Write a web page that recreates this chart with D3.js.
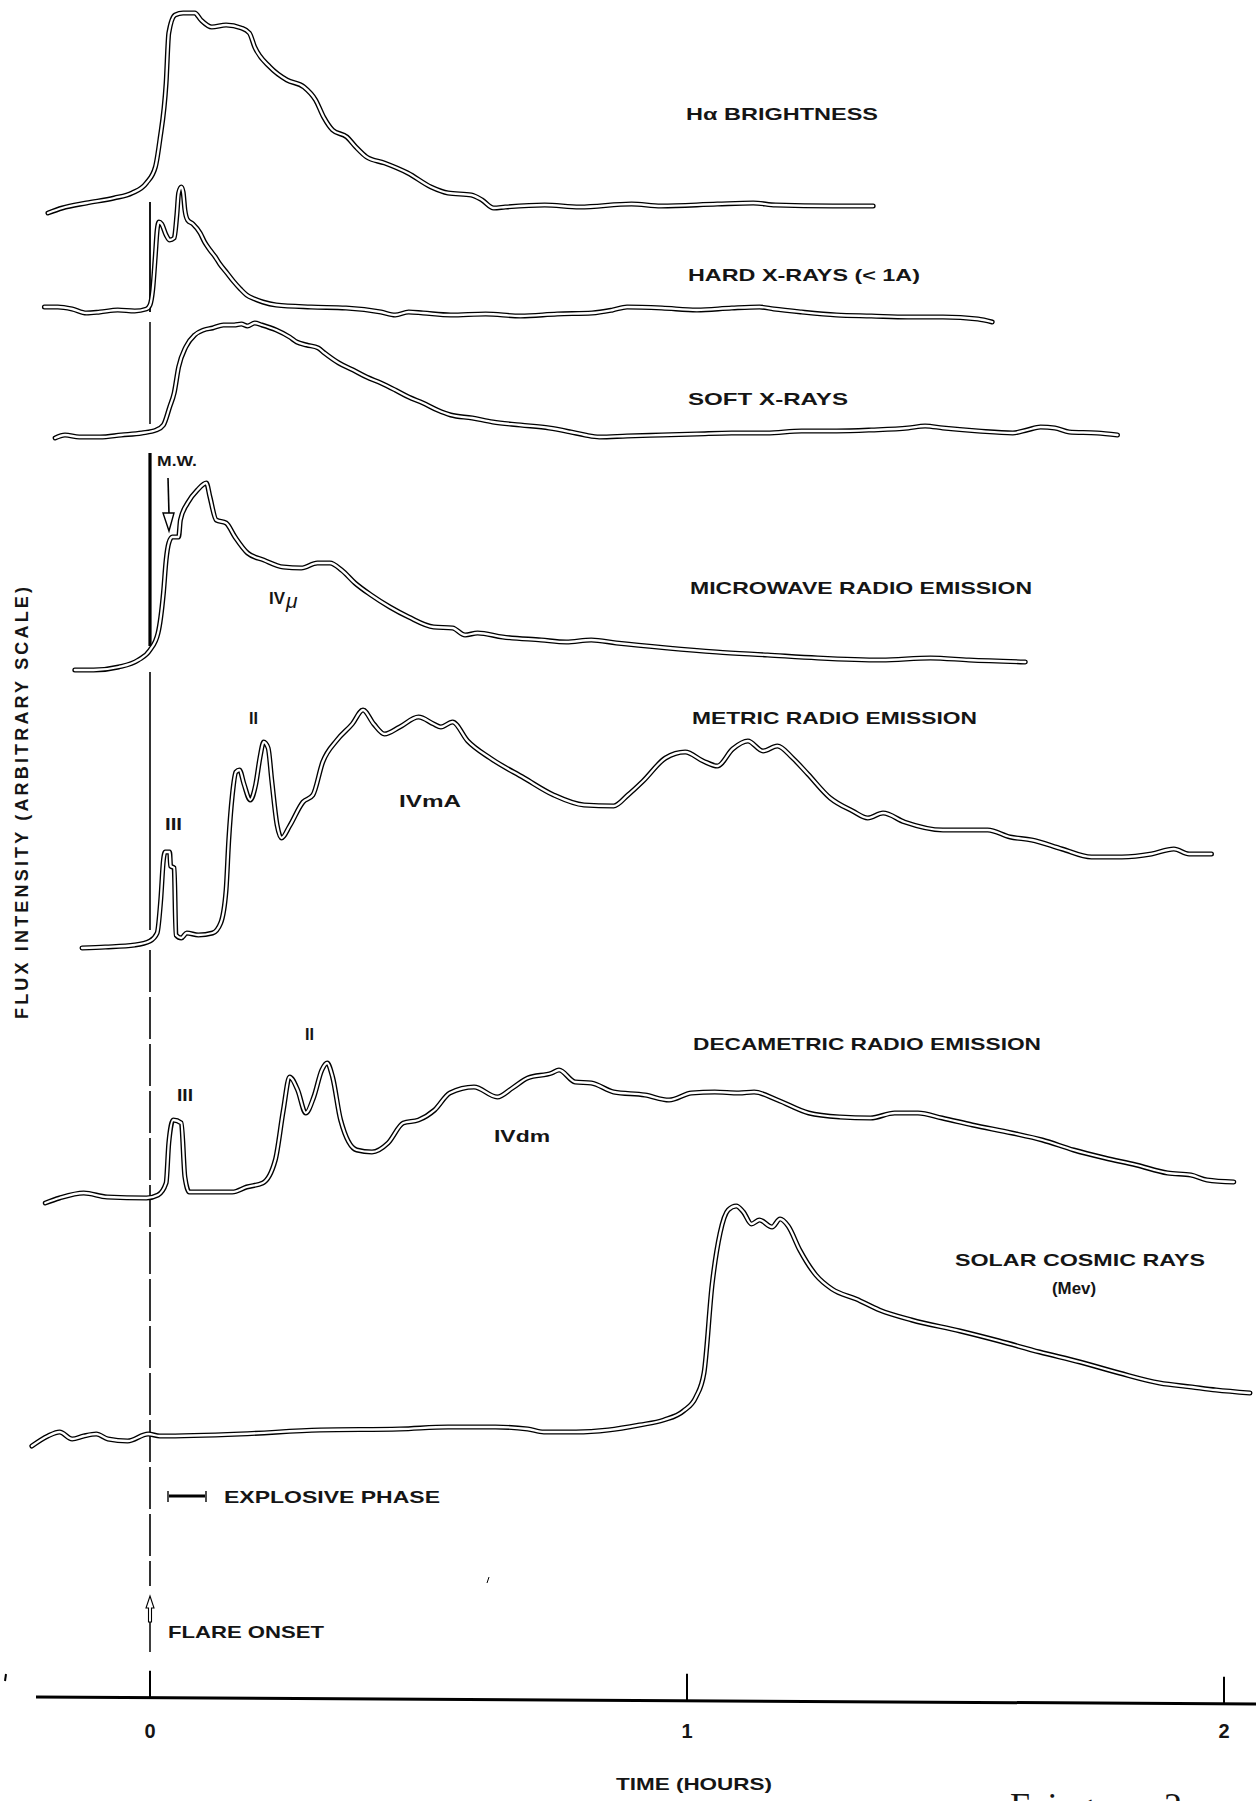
<!DOCTYPE html>
<html><head><meta charset="utf-8">
<script src="https://cdn.jsdelivr.net/npm/d3@7"></script>
<style>body{margin:0;background:#fff}svg{display:block}</style>
</head><body>
<svg id="chart" width="1256" height="1801"></svg>
<script>
// ---- data: [time in minutes after flare onset, flux (arbitrary units)] ----
const halpha = [[-11.4,0],[-9.8,5],[-7.1,10],[-4.0,15],[-2.0,20],[-0.4,30],[0.6,46],[1.1,73],[1.8,130],[2.1,180],[2.8,198],[3.7,200],[5.0,200],[5.7,193],[6.9,186],[8.5,188],[10.2,185],[11.1,180],[11.7,166],[13.4,146],[15.3,133],[17.2,126],[18.5,113],[19.4,96],[20.4,83],[22.0,76],[23.0,66],[24.2,56],[26.2,50],[28.8,40],[31.4,26],[33.3,20],[35.9,18],[37.1,13],[38.4,5],[39.7,6],[44.1,8],[48.0,6],[53.8,9],[57.1,7],[63.4,9],[67.4,10],[69.9,8],[76.3,7],[80.8,7]];
const hardX = [[-11.8,3],[-10.3,3],[-8.7,1],[-7.1,-3],[-5.6,-2],[-3.6,0],[-1.7,-1],[-0.4,1],[0.0,5],[0.3,20],[0.6,55],[0.8,80],[1.0,88],[1.3,86],[1.8,75],[2.2,70],[2.7,72],[3.0,95],[3.2,117],[3.5,123],[3.7,118],[3.9,100],[4.2,90],[4.8,86],[5.6,77],[6.1,68],[6.7,60],[7.3,53],[7.8,46],[8.6,37],[9.3,29],[10.1,21],[10.8,15],[11.7,11],[12.6,8],[14.1,5],[18.0,3],[21.9,2],[25.8,-2],[27.4,-5],[28.9,-2],[30.5,-3],[33.6,-5],[37.5,-4],[41.4,-6],[45.5,-4],[49.4,-3],[51.7,0],[53.3,3],[57.2,2],[61.1,0],[65.0,2],[68.1,3],[69.7,1],[72.8,-2],[76.7,-5],[80.6,-6],[84.7,-7],[88.6,-7],[92.5,-9],[94.1,-12]];
const softX = [[-10.6,-1],[-9.5,2],[-7.9,0],[-5.6,0],[-3.2,2],[-0.9,4],[0.7,7],[1.5,12],[2.2,30],[2.7,44],[3.2,70],[4.0,90],[5.0,102],[6.0,107],[7.0,109],[8.2,112],[9.4,112],[10.2,113],[10.9,111],[11.7,114],[12.5,112],[14.1,107],[15.6,100],[16.4,95],[17.5,92],[18.8,89],[19.5,84],[21.1,74],[22.7,67],[24.2,60],[25.8,54],[27.4,47],[28.9,40],[30.5,34],[32.1,27],[33.6,22],[36.0,19],[38.3,15],[41.4,12],[44.6,9],[47.0,5],[48.6,2],[50.2,0],[53.3,1],[57.2,2],[61.1,3],[65.0,4],[68.9,4],[72.8,6],[76.7,6],[80.6,7],[84.7,9],[86.6,11],[88.6,9],[92.5,6],[96.4,4],[98.0,7],[99.5,10],[101.1,9],[102.7,5],[105.8,4],[108.1,2]];
const microwave = [[-8.4,0],[-6.3,0],[-3.5,3],[-1.3,10],[0.0,20],[0.9,37],[1.5,77],[1.8,110],[2.1,127],[2.5,133],[3.2,133],[3.4,150],[4.2,167],[5.3,180],[6.3,187],[6.7,173],[7.4,150],[8.5,147],[9.5,133],[10.9,117],[12.7,110],[14.9,103],[16.9,102],[18.7,107],[20.1,107],[21.4,100],[22.9,87],[24.7,75],[26.8,63],[28.9,53],[31.7,43],[33.8,42],[35.2,35],[36.6,37],[39.4,33],[43.7,30],[46.5,28],[49.3,30],[52.1,27],[57.8,22],[63.3,18],[69.0,15],[74.6,12],[81.7,10],[87.2,12],[91.5,10],[97.8,8]];
const metric = [[-7.6,-1],[-5.0,0],[-1.7,2],[0.0,6],[0.8,14],[1.2,47],[1.5,87],[1.7,95],[2.2,95],[2.3,81],[2.7,79],[2.9,12],[3.5,9],[4.1,14],[5.4,12],[7.0,14],[7.9,24],[8.5,57],[8.8,107],[9.2,152],[9.6,175],[10.0,177],[10.5,163],[11.2,147],[11.8,162],[12.3,190],[12.7,205],[13.2,199],[13.6,167],[14.2,122],[14.7,109],[15.6,121],[17.1,145],[18.2,152],[19.3,185],[20.9,207],[22.6,223],[23.8,237],[25.0,223],[26.2,213],[27.9,220],[30.0,230],[31.7,223],[32.5,220],[33.8,225],[35.5,206],[38.0,189],[41.8,169],[45.1,152],[48.5,142],[51.8,141],[53.4,152],[55.1,166],[57.6,189],[59.8,195],[61.8,186],[63.4,181],[65.1,198],[66.8,206],[68.5,196],[70.1,201],[71.8,189],[73.5,173],[76.0,149],[78.5,136],[80.2,129],[81.9,134],[84.3,125],[88.6,117],[93.6,117],[96.1,110],[98.5,107],[101.9,98],[105.2,90],[108.6,90],[111.9,93],[114.4,98],[116.1,93],[118.6,93]];
const decametric = [[-11.7,-3],[-10.1,2],[-7.4,7],[-4.8,3],[-0.4,2],[0.9,5],[1.8,17],[2.1,57],[2.6,80],[3.5,77],[3.9,23],[4.4,8],[6.5,8],[9.2,8],[10.8,13],[12.6,17],[14.0,40],[14.9,90],[15.6,123],[16.5,110],[17.4,87],[18.3,103],[19.2,130],[19.8,137],[20.4,123],[21.3,80],[23.1,50],[24.8,48],[26.6,57],[28.3,77],[30.0,80],[31.8,90],[33.5,107],[36.2,113],[38.8,103],[40.5,112],[42.2,122],[44.9,127],[45.7,130],[47.5,118],[49.3,117],[51.8,108],[55.3,105],[58.0,100],[60.5,107],[63.1,108],[65.8,107],[67.5,108],[70.1,100],[73.6,87],[77.1,83],[80.5,82],[83.2,87],[85.8,87],[88.5,82],[91.9,75],[96.3,67],[99.7,60],[103.2,50],[106.7,42],[110.2,35],[113.7,27],[116.3,25],[118.1,20],[121.1,18]];
const cosmic = [[-13.2,-6],[-11.4,4],[-10.1,8],[-8.7,1],[-7.4,4],[-6.0,6],[-4.7,1],[-2.5,-1],[-0.2,6],[1.1,4],[10.1,6],[19.0,10],[27.9,11],[33.3,13],[38.6,13],[42.2,11],[44.0,8],[47.6,8],[51.2,10],[54.7,15],[57.4,20],[59.6,29],[61.0,43],[61.9,67],[62.8,155],[63.7,207],[64.6,230],[65.5,234],[66.3,228],[67.2,216],[68.1,220],[69.5,213],[70.4,221],[71.3,214],[72.6,190],[74.4,165],[76.2,151],[78.9,141],[81.5,130],[85.1,120],[90.5,109],[94.9,99],[99.4,88],[103.9,78],[108.3,67],[112.8,57],[116.4,53],[119.1,50],[122.9,47]];

const tickValues = [0, 60, 120];          // minutes
const tickLabels = ["0", "1", "2"];       // hours
const seriesLabels = ["Hα BRIGHTNESS", "HARD X-RAYS (< 1A)", "SOFT X-RAYS", "MICROWAVE RADIO EMISSION", "METRIC RADIO EMISSION", "DECAMETRIC RADIO EMISSION", "SOLAR COSMIC RAYS"];

// ---- drawing ----
const svg = d3.select("#chart");
svg.append("rect").attr("width",1256).attr("height",1801).attr("fill","#fff");
const x = d3.scaleLinear().domain([0,120]).range([150,1224]);
const FONT = "'Liberation Sans', Arial, sans-serif";

const panels = [
  {data: halpha,     base: 213,  label: 0, lx: 686, ly: 120, lw: 192},
  {data: hardX,      base: 310,  label: 1, lx: 688, ly: 281, lw: 232},
  {data: softX,      base: 437,  label: 2, lx: 688, ly: 405, lw: 160},
  {data: microwave,  base: 670,  label: 3, lx: 690, ly: 594, lw: 342},
  {data: metric,     base: 947,  label: 4, lx: 692, ly: 724, lw: 285},
  {data: decametric, base: 1200, label: 5, lx: 693, ly: 1050, lw: 348},
  {data: cosmic,     base: 1440, label: 6, lx: 955, ly: 1266, lw: 250}
];

// flare onset vertical line (segments)
const x0 = x(0);
const segs = [[202,312,1.8],[322,424,1.5],[453,646,3.2],[672,930,1.6],[1622,1652,1.5]];
segs.forEach(s => svg.append("line").attr("x1",x0).attr("x2",x0).attr("y1",s[0]).attr("y2",s[1])
  .attr("stroke","#000").attr("stroke-width",s[2]));
svg.append("line").attr("x1",x0).attr("x2",x0).attr("y1",950).attr("y2",1586)
  .attr("stroke","#000").attr("stroke-width",1.6).attr("stroke-dasharray","42,5");

// curves as double lines
panels.forEach(p => {
  const y = d3.scaleLinear().domain([0,100]).range([p.base, p.base-100]);
  const line = d3.line().x(d=>x(d[0])).y(d=>y(d[1])).curve(d3.curveMonotoneX);
  svg.append("path").attr("d",line(p.data)).attr("fill","none").attr("stroke","#000")
    .attr("stroke-width",5).attr("stroke-linejoin","round").attr("stroke-linecap","round");
  svg.append("path").attr("d",line(p.data)).attr("fill","none").attr("stroke","#fff")
    .attr("stroke-width",2.3).attr("stroke-linejoin","round").attr("stroke-linecap","round");
  svg.append("text").attr("x",p.lx).attr("y",p.ly).text(seriesLabels[p.label])
    .attr("font-family",FONT).attr("font-size",17).attr("font-weight","bold").attr("fill","#151515")
    .attr("textLength",p.lw).attr("lengthAdjust","spacingAndGlyphs");
});

function txt(s, xx, yy, size, w){
  const t = svg.append("text").attr("x",xx).attr("y",yy).text(s).attr("font-family",FONT)
    .attr("font-size",size).attr("font-weight","bold").attr("fill","#151515");
  if (w) t.attr("textLength",w).attr("lengthAdjust","spacingAndGlyphs");
  return t;
}
txt("(Mev)", 1052, 1294, 16, 44);
// annotations
txt("M.W.", 157, 466, 15, 40);
txt("IV", 269, 604, 17, 16);
svg.append("text").attr("x",286).attr("y",608).text("μ").attr("font-family",FONT)
  .attr("font-size",21).attr("font-style","italic").attr("fill","#151515");
txt("II", 249, 724, 17, 9);
txt("III", 165, 830, 17, 17);
txt("IVmA", 399, 807, 17, 62);
txt("II", 305, 1040, 17, 9);
txt("III", 177, 1101, 17, 16);
txt("IVdm", 494, 1142, 17, 56);

// M.W. arrow
svg.append("line").attr("x1",168).attr("x2",169).attr("y1",478).attr("y2",514).attr("stroke","#000").attr("stroke-width",1.6);
svg.append("path").attr("d","M163,513 L174,513 L169,531 Z").attr("fill","#fff").attr("stroke","#000").attr("stroke-width",1.4);

// explosive phase marker
svg.append("line").attr("x1",169).attr("x2",205).attr("y1",1496).attr("y2",1496).attr("stroke","#000").attr("stroke-width",3);
svg.append("line").attr("x1",168).attr("x2",168).attr("y1",1491).attr("y2",1502).attr("stroke","#000").attr("stroke-width",1.4);
svg.append("line").attr("x1",206).attr("x2",206).attr("y1",1491).attr("y2",1502).attr("stroke","#000").attr("stroke-width",1.4);
txt("EXPLOSIVE PHASE", 224, 1503, 17, 216);

// flare onset arrow
svg.append("path").attr("d",`M${x0},1596 L${x0+4},1608 L${x0+1.5},1608 L${x0+1.5},1622 L${x0-1.5},1622 L${x0-1.5},1608 L${x0-4},1608 Z`)
  .attr("fill","#fff").attr("stroke","#000").attr("stroke-width",1.1);
txt("FLARE ONSET", 168, 1638, 17, 156);

// time axis
svg.append("line").attr("x1",36).attr("y1",1697).attr("x2",1256).attr("y2",1704).attr("stroke","#000").attr("stroke-width",3);
const axisY = v => 1697 + (x(v)-36)*7/1220;
tickValues.forEach((v,i) => {
  svg.append("line").attr("x1",x(v)).attr("x2",x(v)).attr("y1",axisY(v)-27).attr("y2",axisY(v))
    .attr("stroke","#000").attr("stroke-width",2);
  svg.append("text").attr("x",x(v)).attr("y",1738).attr("text-anchor","middle").text(tickLabels[i])
    .attr("font-family",FONT).attr("font-size",20).attr("font-weight","bold").attr("fill","#151515");
});
txt("TIME (HOURS)", 616, 1790, 17, 156);

// y axis title
svg.append("text").attr("transform","translate(28,803) rotate(-90)").attr("text-anchor","middle")
  .text("FLUX INTENSITY (ARBITRARY SCALE)").attr("font-family",FONT).attr("font-size",18)
  .attr("font-weight","bold").attr("fill","#151515").attr("textLength",432).attr("lengthAdjust","spacing");

// figure caption (partly outside the page, as in the scan)
svg.append("text").attr("x",1010).attr("y",1818).text("Fig. 2").attr("font-family","'Liberation Serif', serif")
  .attr("font-size",36).attr("fill","#151515").attr("textLength",172).attr("lengthAdjust","spacing");

// specks
svg.append("line").attr("x1",6).attr("y1",1674).attr("x2",5).attr("y2",1681).attr("stroke","#000").attr("stroke-width",2);
svg.append("line").attr("x1",489).attr("y1",1577).attr("x2",487).attr("y2",1583).attr("stroke","#000").attr("stroke-width",1);
</script>
</body></html>
